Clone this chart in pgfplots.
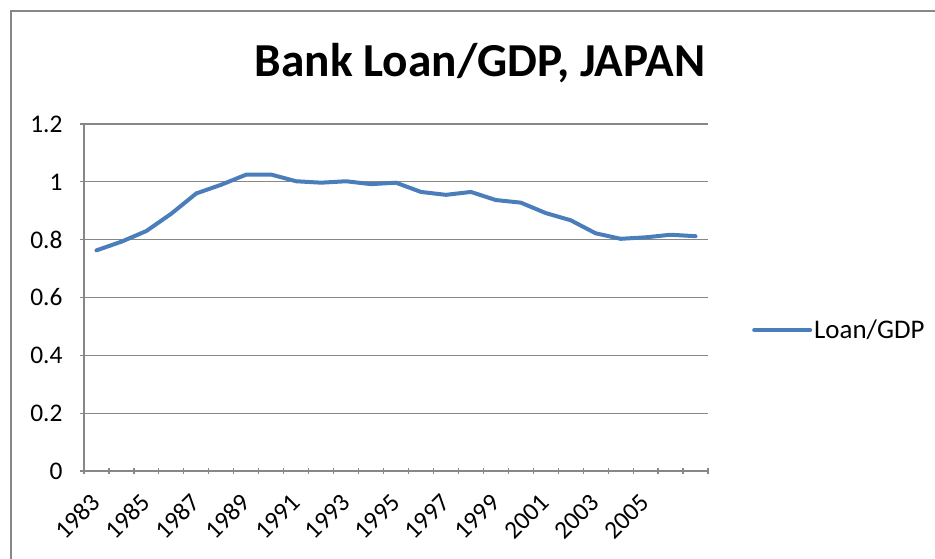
\documentclass[border=0pt]{standalone}
\usepackage{pgfplots}
\pgfplotsset{compat=1.18}
\usepackage{fontspec}
\setmainfont{Carlito}
\definecolor{loanblue}{HTML}{4A7EBB}
\definecolor{gridgray}{HTML}{878787}
\begin{document}
\begin{tikzpicture}
\useasboundingbox (0,0) rectangle (935bp,559bp);
\draw[gridgray, line width=1.5bp] (11bp,-5bp) -- (11bp,548bp) -- (940bp,548bp);
\node[font=\fontsize{47.5}{54}\selectfont\bfseries, anchor=base, inner sep=0pt] at (480bp,482bp) {Bank Loan/GDP, JAPAN};
\begin{axis}[
  at={(84bp,88bp)}, anchor=south west,
  scale only axis, width=624bp, height=347bp,
  xmin=-0.5, xmax=24.5, ymin=0, ymax=1.2,
  ytick={0,0.2,0.4,0.6,0.8,1,1.2},
  xtick={0,2,4,6,8,10,12,14,16,18,20,22},
  xticklabels={1983,1985,1987,1989,1991,1993,1995,1997,1999,2001,2003,2005},
  minor xtick={-0.5,0.5,...,24.5},
  major x tick style={draw=none},
  minor x tick style={gridgray, line width=1.2bp},
  major y tick style={gridgray, line width=1.2bp},
  tick align=outside,
  major tick length=8bp, minor tick length=6bp,
  axis lines=left, axis line style={-, gridgray, line width=1.5bp},
  ymajorgrids, grid style={gridgray, line width=1.2bp},
  /pgf/number format/assume math mode=true,
  ticklabel style={font=\fontsize{25.5}{29}\selectfont},
  yticklabel style={xshift=-14bp},
  xticklabel style={xshift=2bp, yshift=-21bp, rotate=45, anchor=east},
  legend style={at={(1.0705,0.406)}, anchor=west, draw=none, fill=none, inner sep=0pt,
    font=\fontsize{27}{31}\selectfont},
  legend cell align=left,
  legend image code/.code={\draw[#1, line width=4bp] (0bp,0bp) -- (56bp,0bp);},
  clip=false,
]
\addplot[loanblue, line width=4bp, line join=round, line cap=round] coordinates {
(0,0.763) (1,0.793) (2,0.830) (3,0.890) (4,0.960) (5,0.990) (6,1.025) (7,1.025)
(8,1.002) (9,0.997) (10,1.002) (11,0.992) (12,0.997) (13,0.965) (14,0.955)
(15,0.965) (16,0.937) (17,0.928) (18,0.892) (19,0.867) (20,0.822) (21,0.803)
(22,0.808) (23,0.817) (24,0.812)
};
\addlegendentry{Loan/GDP}
\end{axis}
\end{tikzpicture}
\end{document}
